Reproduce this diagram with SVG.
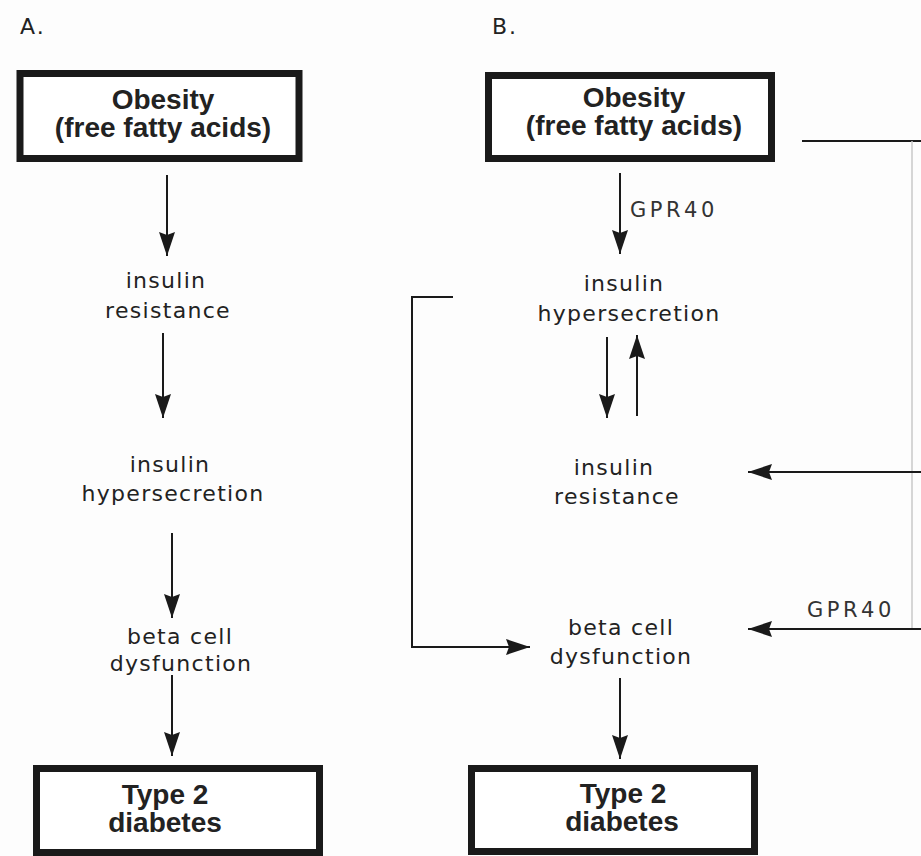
<svg xmlns="http://www.w3.org/2000/svg" width="921" height="856" viewBox="0 0 921 856">
<style>
.box{fill:#ffffff;stroke:#1a1a1a;stroke-width:7}
.bt{font-family:"Liberation Sans",Arial,sans-serif;font-weight:bold;font-size:28px;fill:#222;text-anchor:middle}
.t{font-family:"DejaVu Sans",sans-serif;font-size:22px;letter-spacing:1.3px;fill:#222;text-anchor:middle}
.hd{font-family:"DejaVu Sans",sans-serif;font-size:22px;letter-spacing:2px;fill:#222}
.lbl{font-family:"DejaVu Sans",sans-serif;font-size:21px;letter-spacing:3.5px;fill:#333}
.ln{stroke:#1a1a1a;stroke-width:2;fill:none}
.arr{stroke:#1a1a1a;stroke-width:2;fill:none;marker-end:url(#ah)}
</style>
<defs>
<marker id="ah" viewBox="0 0 24 16" refX="24" refY="8" markerWidth="24" markerHeight="16" markerUnits="userSpaceOnUse" orient="auto">
<path d="M0,0 L24,8 L0,16 L3,8 Z" fill="#1a1a1a"/>
</marker>
</defs>
<rect width="921" height="856" fill="#fdfdfd"/>
<text x="20" y="34" class="hd">A.</text>
<text x="492" y="34" class="hd">B.</text>

<g id="connectors">
<line class="arr" x1="167" y1="175" x2="167" y2="256"/>
<line class="arr" x1="163" y1="333" x2="163" y2="418"/>
<line class="arr" x1="172" y1="533" x2="172" y2="618"/>
<line class="arr" x1="172" y1="675" x2="172" y2="756"/>
<line class="arr" x1="620" y1="173" x2="620" y2="254"/>
<line class="arr" x1="607" y1="337" x2="607" y2="418"/>
<line class="arr" x1="637" y1="416" x2="637" y2="335"/>
<line class="ln" x1="802" y1="141" x2="921" y2="141"/>
<line x1="912" y1="141" x2="912" y2="629" stroke="#c8c8c8" stroke-width="1.5"/>
<line class="arr" x1="921" y1="472" x2="748" y2="472"/>
<line class="arr" x1="921" y1="629" x2="748" y2="629"/>
<polyline class="arr" points="453,297 412,297 412,647 530,647"/>
<line class="arr" x1="620" y1="678" x2="620" y2="759"/>
<text x="630" y="217" class="lbl">GPR40</text>
<text x="807" y="617" class="lbl">GPR40</text>
</g>

<g id="a-obesity">
<rect class="box" x="20" y="73.5" width="279" height="85"/>
<text x="163" y="109" class="bt">Obesity</text>
<text x="163" y="137" class="bt">(free fatty acids)</text>
</g>
<g id="a-insulin-resistance">
<text x="166" y="288" class="t">insulin</text>
<text x="168" y="318" class="t">resistance</text>
</g>
<g id="a-insulin-hypersecretion">
<text x="170" y="472" class="t">insulin</text>
<text x="173" y="501" class="t">hypersecretion</text>
</g>
<g id="a-beta-cell">
<text x="180" y="644" class="t">beta cell</text>
<text x="181" y="671" class="t">dysfunction</text>
</g>
<g id="a-type2">
<rect class="box" x="36.5" y="768.5" width="283" height="84"/>
<text x="165" y="804" class="bt">Type 2</text>
<text x="165" y="832" class="bt">diabetes</text>
</g>

<g id="b-obesity">
<rect class="box" x="488.5" y="75.5" width="283" height="83"/>
<text x="634" y="107" class="bt">Obesity</text>
<text x="634" y="135" class="bt">(free fatty acids)</text>
</g>
<g id="b-insulin-hypersecretion">
<text x="624" y="291" class="t">insulin</text>
<text x="629" y="321" class="t">hypersecretion</text>
</g>
<g id="b-insulin-resistance">
<text x="614" y="475" class="t">insulin</text>
<text x="617" y="504" class="t">resistance</text>
</g>
<g id="b-beta-cell">
<text x="621" y="635" class="t">beta cell</text>
<text x="621" y="664" class="t">dysfunction</text>
</g>
<g id="b-type2">
<rect class="box" x="471.5" y="768.5" width="283" height="83"/>
<text x="623" y="803" class="bt">Type 2</text>
<text x="622" y="831" class="bt">diabetes</text>
</g>
</svg>
